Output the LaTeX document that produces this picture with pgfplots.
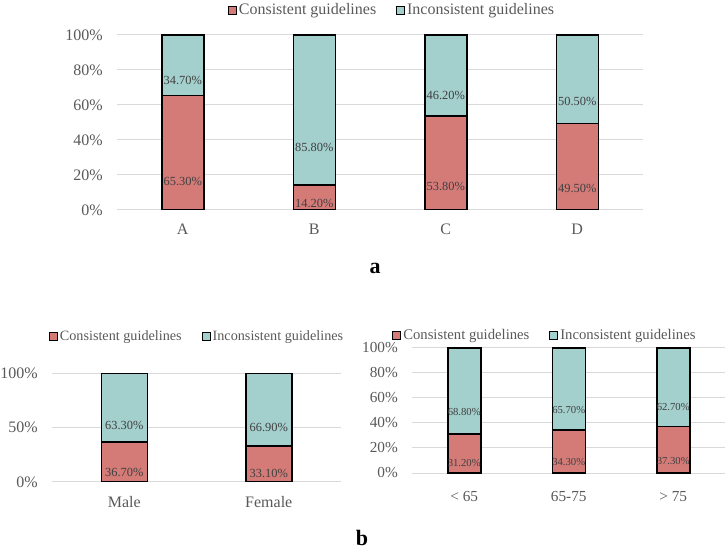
\documentclass[border=0pt]{standalone}
\usepackage{fontspec}
\setmainfont{Liberation Serif}
\usepackage{pgfplots}
\pgfplotsset{compat=1.18}
\usepackage{pgfplotstable}
\definecolor{cred}{RGB}{212,123,120}
\definecolor{cteal}{RGB}{163,207,205}
\definecolor{tickgray}{RGB}{89,89,89}
\definecolor{labgray}{RGB}{64,64,64}
\definecolor{gridgray}{RGB}{217,217,217}

\pgfplotstableread{
x c i
0 65.3 34.7
1 14.2 85.8
2 53.8 46.2
3 49.5 50.5
}\tabA
\pgfplotstableread{
x c i
0 36.7 63.3
1 33.1 66.9
}\tabSex
\pgfplotstableread{
x c i
0 31.2 68.8
1 34.3 65.7
2 37.3 62.7
}\tabAge

\pgfplotsset{
  mybase/.style={
    scale only axis, anchor=south west,
    ybar stacked,
    ymin=0, ymax=100, enlargelimits=false,
    axis line style={draw=none}, tick style={draw=none}, major tick length=0pt,
    ymajorgrids, grid style={gridgray, line width=1pt},
    /pgf/number format/assume math mode=true,
    yticklabel={\pgfmathprintnumber{\tick}\%},
    yticklabel style={anchor=east, inner sep=0pt, xshift=-14pt, text=tickgray, font=\fontsize{16}{18}\selectfont},
    xticklabel style={anchor=north, inner sep=0pt, text=tickgray, font=\fontsize{16}{18}\selectfont},
    legend style={draw=none, fill=none, anchor=center, legend columns=2,
      /tikz/every even column/.append style={column sep=18pt},
      text=tickgray, inner sep=0pt},
    legend cell align=left,
    legend image code/.code={\draw[#1, line width=0.9pt] (0pt,-4pt) rectangle (8pt,4pt);},
    point meta=explicit,
    nodes near coords={\pgfmathprintnumber[fixed,fixed zerofill,precision=2,assume math mode=true]{\pgfplotspointmeta}\%},
    nodes near coords align=center,
  },
  centerlab/.style={
    every node near coord/.append style={
      /utils/exec={\pgfkeys{/pgf/fpu=true,/pgf/fpu/output format=fixed}\pgfmathsetmacro\myshift{0.25*#1*\pgfplotspointmeta}\pgfkeys{/pgf/fpu=false}},
      anchor=center, yshift=-\myshift pt, text=labgray, inner sep=0pt
    }
  },
}

\begin{document}
\begin{tikzpicture}
\path[use as bounding box] (0,0) rectangle (725pt,554pt);

% Panel a
\begin{axis}[mybase, at={(117pt,344pt)}, width=526pt, height=175pt,
  xmin=-0.5, xmax=3.5, bar width=42pt,
  xtick={0,1,2,3}, xticklabels={A,B,C,D},
  xticklabel style={yshift=-14pt},
  ytick={0,20,40,60,80,100},
  centerlab=1.75,
  every node near coord/.append style={font=\fontsize{12.4}{14}\selectfont},
  legend style={at={(0.523,1.143)}, font=\fontsize{16}{18}\selectfont},
]
\addplot[fill=cred, draw=black, line width=1.5pt] table[x=x, y=c, meta=c] {\tabA};
\addlegendentry{Consistent guidelines}
\addplot[fill=cteal, draw=black, line width=1.5pt] table[x=x, y=i, meta=i] {\tabA};
\addlegendentry{Inconsistent guidelines}
\end{axis}

% Panel b left
\begin{axis}[mybase, at={(52pt,72pt)}, width=289pt, height=108.5pt,
  xmin=-0.5, xmax=1.5, bar width=46pt,
  xtick={0,1}, xticklabels={Male,Female},
  xticklabel style={yshift=-14.5pt},
  ytick={0,50,100},
  centerlab=1.085,
  every node near coord/.append style={font=\fontsize{12.4}{14}\selectfont},
  legend style={at={(0.502,1.346)}, font=\fontsize{14.2}{16}\selectfont},
]
\addplot[fill=cred, draw=black, line width=1.5pt] table[x=x, y=c, meta=c] {\tabSex};
\addlegendentry{Consistent guidelines}
\addplot[fill=cteal, draw=black, line width=1.5pt] table[x=x, y=i, meta=i] {\tabSex};
\addlegendentry{Inconsistent guidelines}
\end{axis}

% Panel b right
\begin{axis}[mybase, at={(412pt,81pt)}, width=313.5pt, height=125pt,
  xmin=-0.5, xmax=2.5, bar width=33pt,
  xtick={0,1,2}, xticklabels={{< 65},{\raisebox{5pt}{65-75}},{> 75}},
  xticklabel style={yshift=-18.5pt, font=\fontsize{15.3}{17}\selectfont},
  ytick={0,20,40,60,80,100},
  yticklabel style={font=\fontsize{15.3}{17}\selectfont},
  centerlab=1.25,
  every node near coord/.append style={font=\fontsize{10.7}{12}\selectfont},
  legend style={at={(0.424,1.104)}, font=\fontsize{14.7}{16}\selectfont},
]
\addplot[fill=cred, draw=black, line width=1.5pt] table[x=x, y=c, meta=c] {\tabAge};
\addlegendentry{Consistent guidelines}
\addplot[fill=cteal, draw=black, line width=1.5pt] table[x=x, y=i, meta=i] {\tabAge};
\addlegendentry{Inconsistent guidelines}
\end{axis}

\node[font=\bfseries\fontsize{22}{24}\selectfont] at (375pt,286pt) {a};
\node[font=\bfseries\fontsize{22}{24}\selectfont] at (362pt,16pt) {b};
\end{tikzpicture}
\end{document}
